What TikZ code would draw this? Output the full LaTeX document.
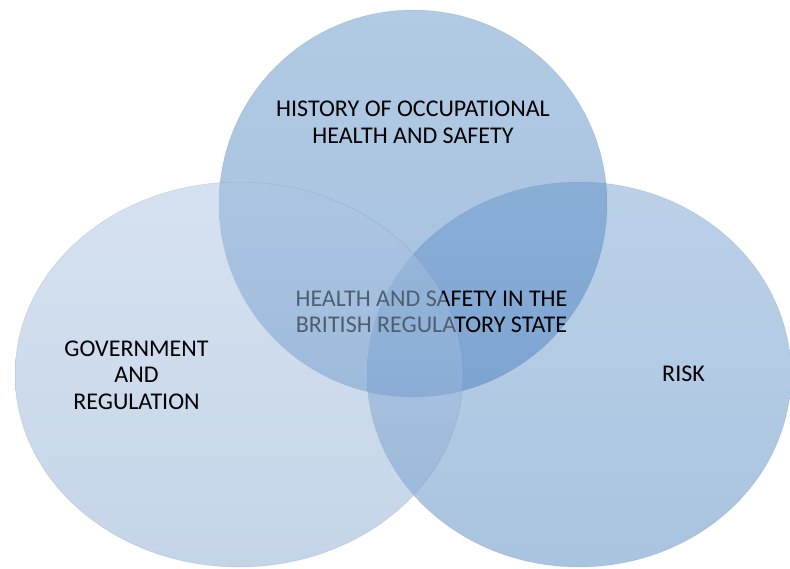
\documentclass[tikz,border=0pt]{standalone}
\usepackage{fontspec}
\setmainfont{Carlito}
\definecolor{ltop}{RGB}{173,197,227}
\definecolor{lbot}{RGB}{139,171,209}
\definecolor{rtop}{RGB}{121,163,209}
\definecolor{rbot}{RGB}{83,137,193}
\definecolor{ttop}{RGB}{101,151,201}
\definecolor{tbot}{RGB}{73,129,193}
\definecolor{edgecol}{RGB}{70,100,140}
\begin{document}
\begin{tikzpicture}[x=1pt,y=-1pt,
  blob/.style={fill opacity=0.5, draw=edgecol, draw opacity=0.18, line width=0.5pt},
  lbl/.style={font=\fontsize{24pt}{26.5pt}\selectfont, align=center, inner sep=0pt, text=black}]
\useasboundingbox (0,0) rectangle (790,568);
\begin{scope}
\clip (0,0) rectangle (790,568);
\shade[blob, top color=rtop, bottom color=rbot] (579,374.5) ellipse [x radius=212pt, y radius=192.5pt];
\shade[blob, top color=ttop, bottom color=tbot] (413,203.5) ellipse [x radius=194pt, y radius=193.5pt];
\node[lbl] (core) at (431.5,311.8) {HEALTH AND SAFETY IN THE\\BRITISH REGULATORY STATE};
\shade[blob, top color=ltop, bottom color=lbot] (239,374.5) ellipse [x radius=224pt, y radius=192.5pt];
\end{scope}
\node[lbl] (hist) at (413,122.3) {HISTORY OF OCCUPATIONAL\\HEALTH AND SAFETY};
\node[lbl] (gov) at (136.5,374.9) {GOVERNMENT\\AND\\REGULATION};
\node[lbl] (risk) at (683.5,374) {RISK};
\end{tikzpicture}
\end{document}
